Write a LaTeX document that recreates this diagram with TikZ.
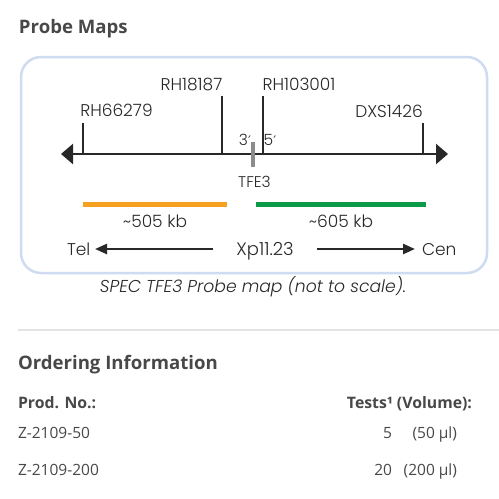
\documentclass[tikz,border=0pt]{standalone}
\usepackage{fontspec}
\setmainfont{Open Sans}
\newfontfamily\pop{Poppins Light}[ItalicFont={Poppins Light Italic}]
\newfontfamily\dv{DejaVu Sans}
\usetikzlibrary{arrows.meta}
\definecolor{boxblue}{RGB}{206,219,240}
\definecolor{txt}{RGB}{72,72,72}
\definecolor{dtxt}{RGB}{40,40,40}
\definecolor{orangebar}{RGB}{245,160,30}
\definecolor{greenbar}{RGB}{10,154,72}
\definecolor{sepgray}{RGB}{228,228,228}
\definecolor{tfegray}{RGB}{140,140,140}
\begin{document}
\begin{tikzpicture}[x=1pt,y=-1pt,
  every node/.style={inner sep=0pt, outer sep=0pt},
  heading/.style={font=\fontsize{18.6}{21}\selectfont\bfseries, text=txt, anchor=base west},
  colhead/.style={font=\fontsize{15.8}{18}\selectfont\bfseries, text=txt},
  body/.style={font=\fontsize{15.5}{18}\selectfont, text=txt},
  lab/.style={font=\pop\fontsize{17}{19}\selectfont, text=dtxt, anchor=base},
  smalllab/.style={font=\pop\fontsize{15.5}{17}\selectfont, text=dtxt, anchor=base},
  chrom/.style={line width=2.4pt, draw=dtxt, {Triangle[length=12pt,width=20pt]}-{Triangle[length=12pt,width=20pt]}},
  tick/.style={line width=1.2pt, draw=dtxt},
  dirarrow/.style={line width=2.4pt, draw=dtxt, -{Triangle[length=12pt,width=10pt]}},
  probebar/.style={line width=5pt},
]
\useasboundingbox[fill=white] (0,0) rectangle (499,499);

% heading
\node[heading] (title) at (19,33) {Probe Maps};

% framed panel
\draw[boxblue, line width=2.5pt, rounded corners=20pt] (21,57) rectangle (487,273);

% chromosome line
\coordinate (L) at (61,154);
\coordinate (R) at (448,154);
\draw[chrom] (L) -- (R);

% marker ticks
\coordinate (t1a) at (83,123);  \coordinate (t1b) at (83,154);
\coordinate (t2a) at (222,96);  \coordinate (t2b) at (222,154);
\coordinate (t3a) at (263,96);  \coordinate (t3b) at (263,154);
\coordinate (t4a) at (423,123); \coordinate (t4b) at (423,154);
\draw[tick] (t1a) -- (t1b);
\draw[tick] (t2a) -- (t2b);
\draw[tick] (t3a) -- (t3b);
\draw[tick] (t4a) -- (t4b);

\node[lab] (m1) at (116.5,116) {RH66279};
\node[lab] (m2) at (191.5,90) {RH18187};
\node[lab] (m3) at (299,90) {RH103001};
\node[lab] (m4) at (389,117) {DXS1426};

% TFE3 gene
\coordinate (g1) at (253,142); \coordinate (g2) at (253,167);
\draw[tfegray, line width=4pt] (g1) -- (g2);
\node[smalllab] (p3) at (245,145) {3{\dv\fontsize{13}{15}\selectfont′}};
\node[smalllab] (p5) at (270,145) {5{\dv\fontsize{13}{15}\selectfont′}};
\node[smalllab] (tfe) at (254.5,187) {TFE3};

% probe bars
\coordinate (o1) at (83,204.5);  \coordinate (o2) at (227,204.5);
\coordinate (gr1) at (256,204.5); \coordinate (gr2) at (426,204.5);
\draw[probebar, orangebar] (o1) -- (o2);
\draw[probebar, greenbar] (gr1) -- (gr2);
\node[lab] (k1) at (155,227) {\textasciitilde505 kb};
\node[lab] (k2) at (341,227) {\textasciitilde605 kb};

% orientation
\node[lab, anchor=base west] (tel) at (67,255) {Tel};
\node[lab, font=\pop\fontsize{18}{20}\selectfont] (xp) at (265,255) {Xp11.23};
\node[lab, anchor=base west] (cen) at (422,255) {Cen};
\coordinate (a1s) at (213,249); \coordinate (a1e) at (95,249);
\coordinate (a2s) at (317,249); \coordinate (a2e) at (415,249);
\draw[dirarrow] (a1s) -- (a1e);
\draw[dirarrow] (a2s) -- (a2e);

% caption
\node[lab, font=\pop\itshape\fontsize{17.2}{19}\selectfont] (cap) at (253,292) {SPEC TFE3 Probe map (not to scale).};

% separator
\coordinate (s1) at (18,330); \coordinate (s2) at (499,330);
\draw[sepgray, line width=1.2pt] (s1) -- (s2);

% ordering information
\node[heading] (oi) at (18,369) {Ordering Information};
\node[colhead, anchor=base west] (pn) at (18,408) {Prod. No.:};
\node[colhead, anchor=base east] (tv) at (472,408) {Tests¹ (Volume):};
\node[body, anchor=base west] (r1) at (18,438) {Z-2109-50};
\node[body, anchor=base west] (r2) at (18,475) {Z-2109-200};
\node[body, anchor=base east] (n1) at (392,438) {5};
\node[body, anchor=base east] (v1) at (457,438) {(50 µl)};
\node[body, anchor=base east] (n2) at (392,475) {20};
\node[body, anchor=base east] (v2) at (457,475) {(200 µl)};
\end{tikzpicture}
\end{document}
